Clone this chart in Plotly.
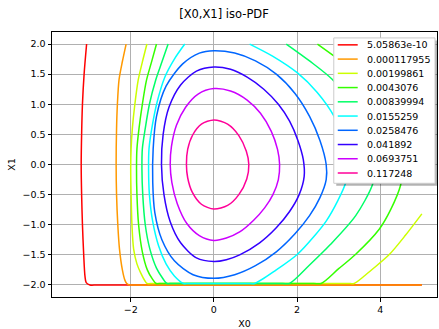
import plotly.graph_objects as go

# ---------------- data ----------------
level_labels = ["5.05863e-10", "0.000117955", "0.00199861", "0.0043076", "0.00839994",
                "0.0155259", "0.0258476", "0.041892", "0.0693751", "0.117248"]
level_colors = ["#ff0000", "#ff9900", "#ccff00", "#33ff00", "#00ff66",
                "#00ffff", "#0066ff", "#3300ff", "#cc00ff", "#ff0099"]

# level 5.05863e-10
c0_x = [-3.06, -3.12, -3.16, -3.18, -3.19, -3.18, -3.16, -3.13, -3.10, -3.07, -2.98, -2.8, 5.0]
c0_y = [2.0, 1.5, 1.0, 0.5, 0.0, -0.5, -1.0, -1.5, -1.85, -1.96, -2.0, -2.0, -2.0]
# level 0.000117955
c1_x = [-2.11, -2.20, -2.28, -2.32, -2.34, -2.35, -2.34, -2.31, -2.27, -2.20, -2.14, -2.10, -2.03, -1.85, 5.0]
c1_y = [2.0, 1.71, 1.41, 1.0, 0.59, 0.0, -0.5, -1.0, -1.4, -1.75, -1.92, -1.97, -2.0, -2.0, -2.0]
# level 0.00199861
c2_x = [-1.61, -1.72, -1.82, -1.90, -1.96, -1.99, -2.0, -1.99, -1.97, -1.93, -1.85, -1.76, -1.66, -1.61,
        -1.45, 3.2, 3.37, 3.6, 3.81, 4.21, 4.6, 5.0]
c2_y = [2.0, 1.7, 1.4, 1.0, 0.6, 0.26, -0.07, -0.5, -1.0, -1.4, -1.65, -1.8, -1.93, -1.975,
        -1.975, -1.975, -1.975, -1.86, -1.74, -1.50, -1.18, -0.82]
# level 0.0043076
c3_x = [-1.38, -1.50, -1.62, -1.72, -1.80, -1.85, -1.86, -1.85, -1.81, -1.72, -1.60, -1.48, -1.39,
        -1.25, 2.4, 2.58, 3.0, 3.41, 3.97, 4.25, 4.49, 4.55, 4.4, 3.9, 3.3, 2.85, 2.49]
c3_y = [2.0, 1.7, 1.4, 1.0, 0.6, 0.26, -0.07, -0.5, -1.0, -1.45, -1.75, -1.9, -1.975,
        -1.975, -1.975, -1.975, -1.73, -1.49, -1.08, -0.75, -0.34, 0.0, 0.6, 1.2, 1.6, 1.82, 2.0]
# level 0.00839994
c4_x = [-1.10, -1.25, -1.40, -1.55, -1.65, -1.72, -1.73, -1.71, -1.65, -1.54, -1.38, -1.24, -1.13,
        -1.0, 1.65, 1.82, 2.3, 2.8, 3.41, 3.81, 3.9, 3.7, 3.3, 2.85, 2.3, 1.74]
c4_y = [2.0, 1.7, 1.4, 1.0, 0.6, 0.26, -0.07, -0.5, -1.0, -1.4, -1.72, -1.88, -1.975,
        -1.975, -1.975, -1.975, -1.67, -1.33, -0.85, -0.34, 0.0, 0.5, 1.0, 1.41, 1.72, 2.0]
# level 0.0155259
c5_x = [-0.70, -0.95, -1.18, -1.36, -1.48, -1.56, -1.57, -1.55, -1.47, -1.33, -1.15, -0.95, -0.73,
        -0.6, 0.82, 0.98, 1.5, 2.01, 2.40, 2.70, 2.98, 3.17, 3.22, 3.12, 2.88, 2.48, 2.01, 1.41, 0.86]
c5_y = [2.0, 1.75, 1.45, 1.05, 0.65, 0.26, -0.07, -0.5, -0.95, -1.35, -1.65, -1.85, -1.975,
        -1.975, -1.975, -1.975, -1.75, -1.49, -1.2, -0.94, -0.6, -0.3, 0.0, 0.4, 0.81, 1.2, 1.52, 1.80, 2.0]
# level 0.0258476
c6_x = [0.0, 0.5, 1.0, 1.5, 1.95, 2.3, 2.55, 2.7, 2.70, 2.55, 2.3, 1.95, 1.5, 1.0, 0.5, 0.0,
        -0.5, -0.95, -1.25, -1.42, -1.47, -1.46, -1.38, -1.15, -0.75, -0.35, 0.0]
c6_y = [1.89, 1.85, 1.72, 1.5, 1.18, 0.8, 0.4, 0.0, -0.25, -0.55, -0.85, -1.15, -1.45, -1.68, -1.83, -1.89,
        -1.83, -1.6, -1.25, -0.8, -0.3, 0.26, 0.8, 1.3, 1.67, 1.85, 1.89]
# level 0.041892
c7_x = [0.0, 0.4, 0.8, 1.2, 1.55, 1.82, 2.02, 2.15, 2.17, 2.05, 1.82, 1.5, 1.1, 0.62, 0.3, 0.0,
        -0.42, -0.8, -1.05, -1.2, -1.26, -1.22, -1.08, -0.8, -0.42, 0.0]
c7_y = [1.62, 1.58, 1.45, 1.25, 1.0, 0.72, 0.4, 0.08, -0.2, -0.5, -0.78, -1.05, -1.3, -1.5, -1.58, -1.61,
        -1.55, -1.3, -0.95, -0.5, 0.0, 0.5, 0.95, 1.32, 1.55, 1.62]
# level 0.0693751
c8_x = [0.0, 0.4, 0.8, 1.12, 1.38, 1.53, 1.58, 1.55, 1.42, 1.22, 0.95, 0.62, 0.3, 0.0,
        -0.35, -0.65, -0.88, -1.01, -1.05, -1.02, -0.9, -0.68, -0.38, 0.0]
c8_y = [1.26, 1.22, 1.07, 0.85, 0.55, 0.25, 0.0, -0.25, -0.5, -0.72, -0.93, -1.12, -1.22, -1.26,
        -1.18, -0.98, -0.65, -0.3, 0.0, 0.3, 0.65, 0.95, 1.17, 1.26]
# level 0.117248
c9_x = [0.0, 0.33, 0.6, 0.78, 0.84, 0.79, 0.6, 0.33, 0.0, -0.3, -0.52, -0.63, -0.66, -0.63, -0.51, -0.3, 0.0]
c9_y = [0.74, 0.67, 0.48, 0.22, 0.0, -0.24, -0.5, -0.68, -0.74, -0.66, -0.46, -0.22, 0.0, 0.25, 0.49, 0.67, 0.74]

contours_x = [c0_x, c1_x, c2_x, c3_x, c4_x, c5_x, c6_x, c7_x, c8_x, c9_x]
contours_y = [c0_y, c1_y, c2_y, c3_y, c4_y, c5_y, c6_y, c7_y, c8_y, c9_y]

x_tickvals = [-2, 0, 2, 4]
x_ticktext = ["\u22122", "0", "2", "4"]
y_tickvals = [-2.0, -1.5, -1.0, -0.5, 0.0, 0.5, 1.0, 1.5, 2.0]
y_ticktext = ["\u22122.0", "\u22121.5", "\u22121.0", "\u22120.5", "0.0", "0.5", "1.0", "1.5", "2.0"]

# ---------------- figure ----------------
W, H = 439, 329
ML, MR, MT, MB = 52, 1, 32, 29
FONT = "DejaVu Sans"

fig = go.Figure()
for xs, ys, col, lab in zip(contours_x, contours_y, level_colors, level_labels):
    fig.add_trace(go.Scatter(x=xs, y=ys, mode="lines", name=lab,
                             line=dict(color=col, width=1.5, shape="spline", smoothing=0.8),
                             showlegend=False, hoverinfo="skip"))

pw, ph = W - ML - MR, H - MT - MB


def px2paper_x(px):
    return (px - ML) / pw


def py2paper_y(py):
    return (H - MB - py) / ph


shapes = []
# legend shadow + box
bx0, bx1, by0, by1 = 334.5, 436.0, 38.0, 185.0
sh = 2.5
shapes.append(dict(type="rect", xref="paper", yref="paper", layer="above",
                   x0=px2paper_x(bx0 + sh), x1=px2paper_x(bx1 + sh),
                   y0=py2paper_y(by1 + sh), y1=py2paper_y(by0 + sh),
                   fillcolor="rgba(0,0,0,0.3)", line=dict(width=0)))
shapes.append(dict(type="rect", xref="paper", yref="paper", layer="above",
                   x0=px2paper_x(bx0), x1=px2paper_x(bx1),
                   y0=py2paper_y(by1), y1=py2paper_y(by0),
                   fillcolor="white", line=dict(color="#cccccc", width=1)))
annotations = []
for i, (lab, col) in enumerate(zip(level_labels, level_colors)):
    yc = 45.0 + 14.4 * i
    shapes.append(dict(type="line", xref="paper", yref="paper", layer="above",
                       x0=px2paper_x(338.5), x1=px2paper_x(358.5),
                       y0=py2paper_y(yc), y1=py2paper_y(yc),
                       line=dict(color=col, width=1.5)))
    annotations.append(dict(xref="paper", yref="paper", x=px2paper_x(365.5), y=py2paper_y(yc),
                            text=lab, showarrow=False, xanchor="left", yanchor="middle",
                            font=dict(family=FONT, size=9.5, color="black")))

axis_common = dict(showgrid=True, gridcolor="#b0b0b0", gridwidth=1,
                   showline=True, linecolor="black", linewidth=1, mirror=True,
                   ticks="outside", ticklen=3.5, tickwidth=1, tickcolor="black",
                   zeroline=False, tickfont=dict(family=FONT, size=9.5, color="black"))

fig.update_layout(
    width=W, height=H,
    margin=dict(l=ML, r=MR, t=MT, b=MB, pad=0),
    paper_bgcolor="white", plot_bgcolor="white",
    title=dict(text="[X0,X1] iso-PDF", x=224 / W, xanchor="center", y=1 - 14 / H, yanchor="middle",
               font=dict(family=FONT, size=11.5, color="black")),
    xaxis=dict(range=[-3.892, 5.364], tickvals=x_tickvals, ticktext=x_ticktext,
               title=dict(text="X0", standoff=6, font=dict(family=FONT, size=9.5, color="black")),
               **axis_common),
    yaxis=dict(range=[-2.2, 2.2], tickvals=y_tickvals, ticktext=y_ticktext,
               title=dict(text="X1", standoff=5, font=dict(family=FONT, size=9.5, color="black")),
               **axis_common),
    shapes=shapes, annotations=annotations, showlegend=False,
)

fig.write_html("out.html")
